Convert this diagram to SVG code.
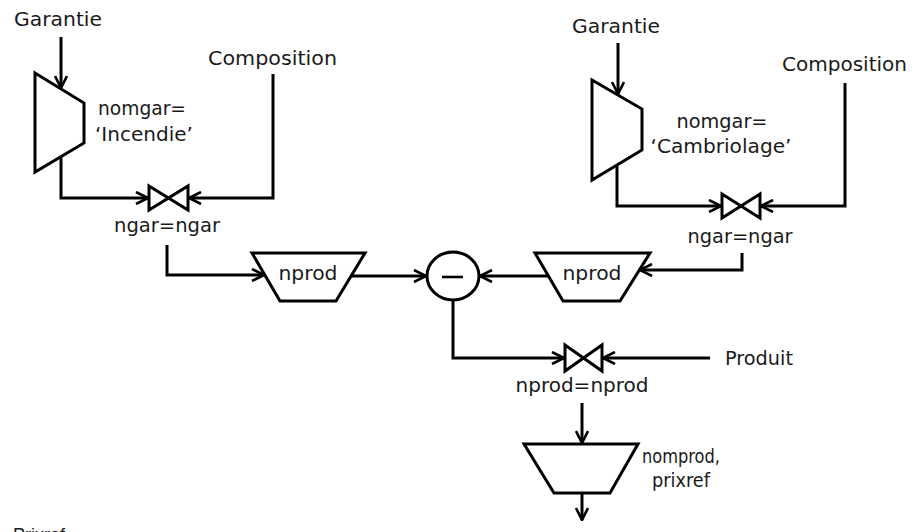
<svg xmlns="http://www.w3.org/2000/svg" width="916" height="532" viewBox="0 0 916 532">
<style>
.s{fill:#fff;stroke:#000;stroke-width:3;stroke-linejoin:miter}
.c{fill:none;stroke:#000;stroke-width:3}
text{font-family:"DejaVu Sans","Liberation Sans",sans-serif;font-size:19.5px;fill:#1a1a1a}
.m{text-anchor:middle}
</style>
<defs>
<marker id="a" viewBox="0 0 14 14" refX="13" refY="7" markerWidth="14" markerHeight="14" markerUnits="userSpaceOnUse" orient="auto">
<path d="M1,1 L13,7 L1,13" fill="none" stroke="#000" stroke-width="2.6"/>
</marker>
</defs>
<g id="connectors">
<path class="c" d="M61,37 L61,88" marker-end="url(#a)"/>
<path class="c" d="M61,157 L61,198 L148,198" marker-end="url(#a)"/>
<path class="c" d="M273,74 L273,198 L189,198" marker-end="url(#a)"/>
<path class="c" d="M167,245 L167,275 L264,275" marker-end="url(#a)"/>
<path class="c" d="M351,276 L426,276" marker-end="url(#a)"/>
<path class="c" d="M618,43 L618,94" marker-end="url(#a)"/>
<path class="c" d="M617,166 L617,206 L721,206" marker-end="url(#a)"/>
<path class="c" d="M845,83 L845,206 L761,206" marker-end="url(#a)"/>
<path class="c" d="M742,253 L742,270 L640,270" marker-end="url(#a)"/>
<path class="c" d="M548,276 L480,276" marker-end="url(#a)"/>
<path class="c" d="M453,300 L453,358 L564,358" marker-end="url(#a)"/>
<path class="c" d="M710,358 L603,358" marker-end="url(#a)"/>
<path class="c" d="M582,403 L582,443" marker-end="url(#a)"/>
<path class="c" d="M582,493 L582,520" marker-end="url(#a)"/>
</g>
<g id="garantie-left"><text x="14" y="26" textLength="88" lengthAdjust="spacingAndGlyphs">Garantie</text></g>
<g id="composition-left"><text x="208" y="65" textLength="129" lengthAdjust="spacingAndGlyphs">Composition</text></g>
<g id="select-incendie">
<polygon class="s" points="35,73 84,103 84,143 35,172"/>
<text class="m" x="142" y="115" textLength="88" lengthAdjust="spacingAndGlyphs">nomgar=</text>
<text class="m" x="144" y="141" textLength="98" lengthAdjust="spacingAndGlyphs">‘Incendie’</text>
</g>
<g id="join-left">
<path class="s" d="M149,186 L188,210 L188,186 L149,210 Z"/>
<text class="m" x="167" y="232" textLength="106" lengthAdjust="spacingAndGlyphs">ngar=ngar</text>
</g>
<g id="project-left">
<polygon class="s" points="252,253 365,253 336,301 280,301"/>
<text class="m" x="308" y="280" textLength="59" lengthAdjust="spacingAndGlyphs">nprod</text>
</g>
<g id="minus">
<ellipse class="s" cx="453" cy="276" rx="26" ry="24"/>
<line x1="442" y1="277" x2="463" y2="277" stroke="#000" stroke-width="2.6"/>
</g>
<g id="garantie-right"><text x="572" y="33" textLength="88" lengthAdjust="spacingAndGlyphs">Garantie</text></g>
<g id="composition-right"><text x="782" y="71" textLength="125" lengthAdjust="spacingAndGlyphs">Composition</text></g>
<g id="select-cambriolage">
<polygon class="s" points="592,80 642,109 642,150 592,180"/>
<text class="m" x="722" y="128" textLength="91" lengthAdjust="spacingAndGlyphs">nomgar=</text>
<text class="m" x="721" y="153" textLength="141" lengthAdjust="spacingAndGlyphs">‘Cambriolage’</text>
</g>
<g id="join-right">
<path class="s" d="M722,194 L760,218 L760,194 L722,218 Z"/>
<text class="m" x="740" y="243" textLength="105" lengthAdjust="spacingAndGlyphs">ngar=ngar</text>
</g>
<g id="project-right">
<polygon class="s" points="535,253 650,253 620,301 563,301"/>
<text class="m" x="592" y="280" textLength="59" lengthAdjust="spacingAndGlyphs">nprod</text>
</g>
<g id="produit"><text x="725" y="365" textLength="68" lengthAdjust="spacingAndGlyphs">Produit</text></g>
<g id="join-produit">
<path class="s" d="M565,345 L602,371 L602,345 L565,371 Z"/>
<text class="m" x="582" y="392" textLength="133" lengthAdjust="spacingAndGlyphs">nprod=nprod</text>
</g>
<g id="project-final">
<polygon class="s" points="524,444 638,444 610,493 554,493"/>
<text class="m" x="681" y="463" textLength="78" lengthAdjust="spacingAndGlyphs">nomprod,</text>
<text class="m" x="681" y="487" textLength="58" lengthAdjust="spacingAndGlyphs">prixref</text>
</g>
<g id="prixref-label"><text x="13" y="541" style="font-family:'Liberation Sans',sans-serif;font-size:18px">Prixref</text></g>
</svg>
